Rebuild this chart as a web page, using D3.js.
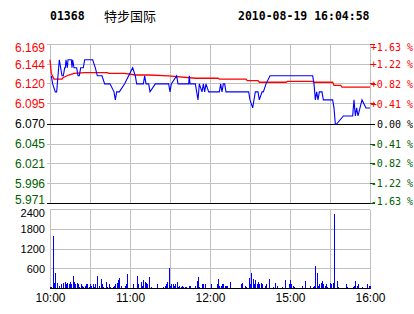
<!DOCTYPE html>
<html><head><meta charset="utf-8">
<script src="https://cdn.jsdelivr.net/npm/d3@7"></script>
<style>body{margin:0;background:#fff}svg{display:block;background:#fff}</style>
</head><body><svg id="c" width="414" height="314"></svg>
<script>
const stockCode = "01368";
const stockName = "特步国际";
const timestamp = "2010-08-19 16:04:58";
const prevClose = 6.070;
const priceTicks = [6.169, 6.144, 6.120, 6.095, 6.070, 6.045, 6.021, 5.996, 5.971];
const pctTicks = ["+1.63 %", "+1.22 %", "+0.82 %", "+0.41 %", "0.00 %", "-0.41 %", "-0.82 %", "-1.22 %", "-1.63 %"];
const volTicks = [2400, 1800, 1200, 600];
const timeLabels = ["10:00", "11:00", "12:00", "15:00", "16:00"];
const timeLabelMinutes = [0, 60, 120, 180, 240];
const gridMinutes = [0, 30, 60, 90, 120, 150, 180, 210, 240];

const priceMinutes = [1, 2, 4, 5, 5.5, 6, 7, 8, 9, 10, 11, 11.5, 12, 13, 13.5, 16, 16.5, 17, 18, 19, 20, 21, 22, 23, 24, 25, 26, 32, 34, 35.5, 39, 41, 45, 48, 49, 50, 52, 56, 59, 62, 64, 65, 70, 71, 72, 74, 75, 79, 89, 90, 91, 95, 96, 104, 104.5, 105, 109, 110, 111, 112, 114, 115, 116, 117, 119, 127, 128, 129, 130, 131, 132, 135, 149, 150, 152, 153, 154, 156, 157, 159, 160, 162, 165, 197, 198, 199, 200, 201, 202, 204, 205, 212, 213, 214, 215, 220, 222, 227, 228, 229, 230, 231, 234, 237, 240];
const priceValues = [6.13, 6.12, 6.11, 6.11, 6.12, 6.13, 6.15, 6.14, 6.13, 6.13, 6.14, 6.14, 6.15, 6.14, 6.15, 6.15, 6.14, 6.15, 6.14, 6.14, 6.14, 6.13, 6.13, 6.14, 6.14, 6.14, 6.15, 6.15, 6.14, 6.13, 6.13, 6.12, 6.12, 6.11, 6.10, 6.11, 6.11, 6.12, 6.13, 6.14, 6.13, 6.12, 6.12, 6.13, 6.12, 6.12, 6.11, 6.12, 6.12, 6.11, 6.12, 6.13, 6.12, 6.12, 6.13, 6.12, 6.12, 6.11, 6.10, 6.12, 6.11, 6.12, 6.11, 6.12, 6.11, 6.11, 6.12, 6.11, 6.12, 6.12, 6.11, 6.11, 6.11, 6.10, 6.09, 6.10, 6.11, 6.11, 6.10, 6.11, 6.11, 6.12, 6.13, 6.13, 6.12, 6.10, 6.11, 6.10, 6.11, 6.11, 6.10, 6.10, 6.09, 6.07, 6.07, 6.08, 6.08, 6.08, 6.10, 6.08, 6.09, 6.08, 6.10, 6.09, 6.09];

const avgMinutes = [0, 1, 3, 9, 10, 14, 18, 26, 43, 44, 56, 64, 74, 89, 109, 126, 127, 147, 148, 156, 157, 177, 178, 197, 198, 212, 213, 218, 219, 240];
const avgValues = [6.150, 6.133, 6.126, 6.126, 6.128, 6.131, 6.133, 6.134, 6.134, 6.133, 6.133, 6.131, 6.131, 6.130, 6.127, 6.127, 6.126, 6.126, 6.124, 6.124, 6.122, 6.122, 6.123, 6.123, 6.122, 6.122, 6.118, 6.118, 6.116, 6.116];

const volMinutes = [0, 1, 2, 3, 4, 5, 7, 8, 10, 11, 12, 13, 14, 15, 16, 17, 18, 19, 20, 21, 22, 23, 24, 25, 26, 27, 28, 29, 30, 31, 32, 33, 34, 35, 37, 38, 39, 40, 42, 43, 44, 45, 47, 48, 49, 50, 51, 52, 53, 56, 57, 58, 62, 65, 66, 68, 69, 70, 71, 72, 73, 74, 76, 80, 85, 86, 87, 88, 89, 90, 91, 92, 93, 94, 95, 96, 97, 98, 99, 100, 101, 102, 104, 105, 109, 110, 111, 112, 114, 115, 116, 121, 125, 126, 127, 128, 129, 130, 131, 132, 133, 135, 143, 144, 146, 147, 149, 150, 151, 152, 153, 154, 155, 156, 157, 158, 159, 161, 162, 164, 167, 169, 170, 174, 176, 179, 180, 181, 182, 183, 189, 191, 195, 197, 198, 199, 200, 201, 202, 203, 204, 205, 206, 207, 208, 210, 211, 212, 213, 215, 216, 222, 223, 227, 228, 229, 230, 231, 234, 238, 239, 240];
const volValues = [60, 60, 1610, 170, 470, 170, 90, 130, 170, 210, 130, 170, 130, 210, 130, 370, 210, 130, 170, 130, 50, 130, 90, 50, 90, 130, 130, 50, 130, 90, 130, 50, 130, 390, 90, 290, 130, 50, 210, 50, 130, 50, 50, 90, 130, 170, 250, 310, 90, 90, 130, 430, 150, 390, 130, 210, 90, 270, 210, 170, 130, 340, 50, 150, 50, 90, 130, 190, 610, 90, 130, 130, 90, 130, 210, 50, 90, 50, 90, 50, 50, 50, 90, 90, 90, 230, 340, 50, 130, 130, 130, 130, 130, 290, 90, 90, 130, 130, 90, 90, 90, 210, 130, 170, 90, 50, 330, 130, 480, 290, 130, 250, 130, 210, 130, 170, 130, 90, 130, 290, 50, 170, 90, 50, 270, 130, 270, 130, 90, 50, 90, 230, 90, 50, 90, 670, 470, 90, 130, 170, 230, 130, 90, 130, 50, 170, 130, 170, 2270, 230, 50, 130, 50, 50, 90, 230, 90, 130, 50, 130, 90, 90];

const RED = "#ff0000", GREEN = "#006000", BLUE = "#0000ff", GRID = "#c0c0c0";
const svg = d3.select("#c");
svg.append("rect").attr("width", 414).attr("height", 314).attr("fill", "#fff");

const x = d3.scaleLinear().domain([0, 240]).range([50, 370]);
const yP = d3.scaleLinear().domain([5.971, 6.169]).range([203.5, 44.5]);
const yV = d3.scaleLinear().domain([0, 2400]).range([288.5, 209.5]);
const colorFor = i => i < 4 ? RED : (i === 4 ? "#000" : GREEN);

// Header
const hdr = svg.append("g").attr("font-family", "'DejaVu Sans Mono', 'Liberation Mono', monospace").attr("font-weight", "bold").attr("font-size", "11.5px").attr("fill", "#000");
hdr.append("text").attr("x", 50).attr("y", 20).text(stockCode);
hdr.append("text").attr("x", 104).attr("y", 21).attr("font-family", "'Noto Sans CJK SC', sans-serif").attr("font-weight", "normal").attr("font-size", "13px").text(stockName);
hdr.append("text").attr("x", 238).attr("y", 20).text(timestamp);

// Price panel grid
const g = svg.append("g").attr("shape-rendering", "crispEdges");
g.selectAll("line.hp").data(priceTicks).join("line")
  .attr("x1", 47).attr("x2", 370)
  .attr("y1", d => yP(d)).attr("y2", d => yP(d))
  .attr("stroke", (d, i) => (i === 4 || i === 8) ? "#000" : GRID);
g.selectAll("line.vp").data(gridMinutes).join("line")
  .attr("x1", d => x(d) + 0.5).attr("x2", d => x(d) + 0.5)
  .attr("y1", yP(6.169)).attr("y2", yP(5.971))
  .attr("stroke", GRID);
g.append("line").attr("x1", 50).attr("x2", 370).attr("y1", yP(6.070)).attr("y2", yP(6.070)).attr("stroke", "#000");
g.append("line").attr("x1", 50).attr("x2", 370).attr("y1", yP(5.971)).attr("y2", yP(5.971)).attr("stroke", "#000");
// right ticks
g.selectAll("line.rt").data(priceTicks).join("line")
  .attr("x1", 370).attr("x2", 375)
  .attr("y1", d => yP(d)).attr("y2", d => yP(d))
  .attr("stroke", (d, i) => colorFor(i));

// Left price axis
const axL = svg.append("g").attr("transform", "translate(45,0)")
  .call(d3.axisLeft(yP).tickValues(priceTicks).tickFormat(d3.format(".3f")).tickSize(0).tickPadding(0));
axL.select(".domain").remove();
axL.selectAll("text").attr("font-family", "'Liberation Sans', Arial, sans-serif").attr("font-size", "12px")
  .attr("fill", (d, i) => colorFor(i))
  .attr("dy", (d, i) => i === 0 ? "0.62em" : (i === 8 ? "-0.02em" : "0.32em"));

// Right percent labels
const pctScale = d3.scalePoint().domain(pctTicks).range([yP(6.169), yP(5.971)]);
const axR = svg.append("g").attr("transform", "translate(413,0)")
  .call(d3.axisLeft(pctScale).tickSize(0).tickPadding(0));
axR.select(".domain").remove();
axR.selectAll("text").attr("font-family", "'DejaVu Sans Mono', 'Liberation Mono', monospace").attr("font-size", "10px")
  .attr("fill", (d, i) => colorFor(i))
  .attr("dy", (d, i) => i === 0 ? "0.62em" : (i === 8 ? "0.05em" : "0.32em"));

// Lines
const avgLine = d3.line().x(d => x(d[0])).y(d => yP(d[1]));
svg.append("path").datum(avgMinutes.map((m, i) => [m, avgValues[i]]))
  .attr("d", avgLine).attr("fill", "none").attr("stroke", RED).attr("stroke-width", 1.3);
svg.append("path").datum(priceMinutes.map((m, i) => [m, priceValues[i]]))
  .attr("d", avgLine).attr("fill", "none").attr("stroke", BLUE).attr("stroke-width", 1.1);

// Volume panel grid
const gv = svg.append("g").attr("shape-rendering", "crispEdges");
gv.selectAll("line.hv").data(volTicks).join("line")
  .attr("x1", 50).attr("x2", 370)
  .attr("y1", d => yV(d)).attr("y2", d => yV(d)).attr("stroke", GRID);
gv.selectAll("line.vv").data(gridMinutes).join("line")
  .attr("x1", d => x(d) + 0.5).attr("x2", d => x(d) + 0.5)
  .attr("y1", yV(2400)).attr("y2", yV(0)).attr("stroke", GRID);

gv.selectAll("rect.bar").data(volMinutes.map((m, i) => [m, volValues[i]])).join("rect")
  .attr("x", d => Math.round(x(d[0]))).attr("width", 1.4)
  .attr("y", d => yV(d[1])).attr("height", d => yV(0) - yV(d[1]))
  .attr("fill", BLUE);
gv.append("line").attr("x1", 50).attr("x2", 370).attr("y1", yV(0)).attr("y2", yV(0)).attr("stroke", "#000");

const axV = svg.append("g").attr("transform", "translate(45,0)")
  .call(d3.axisLeft(yV).tickValues(volTicks).tickFormat(d3.format("d")).tickSize(0).tickPadding(0));
axV.select(".domain").remove();
axV.selectAll("text").attr("font-family", "'Liberation Sans', Arial, sans-serif").attr("font-size", "11px").attr("fill", "#000")
  .attr("dy", (d, i) => i === 0 ? "0.62em" : "0.32em");

// Time axis
const axT = svg.append("g").attr("transform", "translate(0,293)")
  .call(d3.axisBottom(x).tickValues(timeLabelMinutes).tickFormat((d, i) => timeLabels[i]).tickSize(0).tickPadding(0));
axT.select(".domain").remove();
axT.selectAll("text").attr("font-family", "'Liberation Sans', Arial, sans-serif").attr("font-size", "12px").attr("fill", "#000");
</script></body></html>
